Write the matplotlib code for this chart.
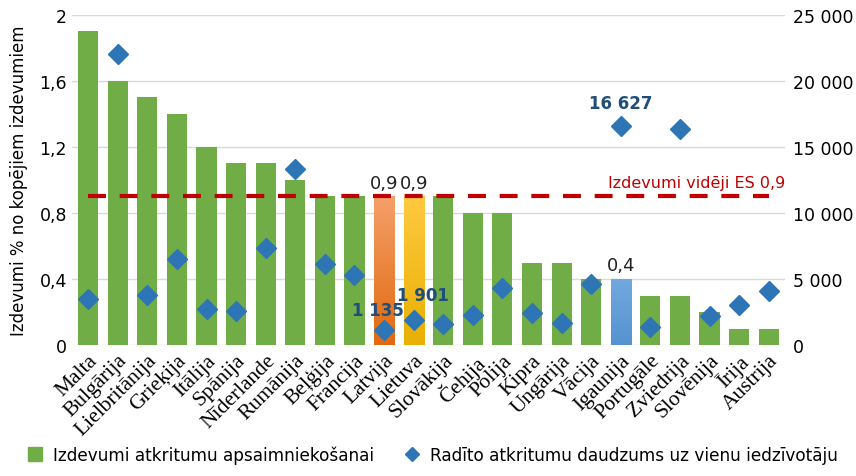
import matplotlib.pyplot as plt
import numpy as np
from matplotlib.colors import LinearSegmentedColormap
from matplotlib.ticker import FuncFormatter

countries = ["Malta", "Bulgārija", "Lielbritānija", "Grieķija", "Itālija", "Spānija",
             "Nīderlande", "Rumānija", "Beļģija", "Francija", "Latvija", "Lietuva",
             "Slovākija", "Čehija", "Polija", "Kipra", "Ungārija", "Vācija", "Igaunija",
             "Portugāle", "Zviedrija", "Slovēnija", "Īrija", "Austrija"]
spend_pct = [1.9, 1.6, 1.5, 1.4, 1.2, 1.1, 1.1, 1.0, 0.9, 0.9, 0.9, 0.9,
             0.9, 0.8, 0.8, 0.5, 0.5, 0.4, 0.4, 0.3, 0.3, 0.2, 0.1, 0.1]
waste_per_capita = [3480, 22050, 3790, 6520, 2730, 2580, 7350, 13330, 6140, 5300, 1135, 1901,
                    1590, 2270, 4320, 2420, 1670, 4620, 16627, 1360, 16360, 2200, 3030, 4090]
eu_avg = 0.9

# highlighted bars: name -> (top colour, bottom colour)
highlight = {
    "Latvija": ("#F4A06A", "#E2690F"),
    "Lietuva": ("#FFC941", "#E8B000"),
    "Igaunija": ("#71A9DE", "#5693D0"),
}
bar_labels = {"Latvija": "0,9", "Lietuva": "0,9", "Igaunija": "0,4"}
point_labels = {"Latvija": "1 135", "Lietuva": "1 901", "Igaunija": "16 627"}

green = "#70AD47"
marker_blue = "#2E75B6"
label_blue = "#1F4E79"

plt.rcParams["font.family"] = ["DejaVu Sans"]

fig = plt.figure(figsize=(8.56, 4.77), dpi=100)
ax = fig.add_axes([0.084, 0.2746, 0.833, 0.6919])
ax2 = ax.twinx()

x = np.arange(len(countries))
width = 0.68
bars = ax.bar(x, spend_pct, width=width, color=green, zorder=2)

for b, name in zip(bars, countries):
    if name in highlight:
        top, bottom = highlight[name]
        cmap = LinearSegmentedColormap.from_list(name, [bottom, top])
        bx, by = b.get_x(), b.get_y()
        bw, bh = b.get_width(), b.get_height()
        grad = np.linspace(0, 1, 100).reshape(-1, 1)
        im = ax.imshow(grad, cmap=cmap, origin="lower", aspect="auto",
                       extent=[bx, bx + bw, by, by + bh], zorder=2.5)
        im.set_clip_path(b)
        b.set_facecolor("none")
        ax.text(b.get_x() + bw / 2, bh + 0.03, bar_labels[name], ha="center",
                va="bottom", fontsize=13, color="#222222", zorder=5)

ax.set_xlim(-0.55, len(countries) - 0.45)
ax.set_ylim(0, 2)
ax.set_yticks(np.arange(0, 2.01, 0.4))
ax.yaxis.set_major_formatter(FuncFormatter(lambda v, p: f"{v:g}".replace(".", ",")))
ax.grid(axis="y", color="#D9D9D9", linewidth=1, zorder=0)
ax.set_axisbelow(True)
ax.set_ylabel("Izdevumi % no kopējiem izdevumiem", fontsize=12, labelpad=8)

ax.plot([x[0], x[-1]], [eu_avg, eu_avg], color="#C00000", linestyle=(0, (4.3, 3.3)),
        linewidth=3.0, zorder=4)
ax.text(x[-1] + 0.55, eu_avg + 0.04, "Izdevumi vidēji ES 0,9", color="#C00000",
        fontsize=11.5, ha="right", va="bottom", zorder=5)

ax.set_xticks(x)
ax.set_xticklabels(countries, rotation=45, ha="right", rotation_mode="anchor",
                   fontsize=15.5, family="Liberation Serif")

ax2.plot(x, waste_per_capita, linestyle="none", marker="D", markersize=10,
         color=marker_blue, zorder=6)
ax2.set_ylim(0, 25000)
ax2.set_yticks(np.arange(0, 25001, 5000))
ax2.yaxis.set_major_formatter(FuncFormatter(lambda v, p: f"{int(v):,}".replace(",", " ")))

offsets = {"Latvija": (-0.2, 800), "Lietuva": (0.3, 1200), "Igaunija": (0, 1000)}
for name, txt in point_labels.items():
    i = countries.index(name)
    dx, dy = offsets[name]
    ax2.text(x[i] + dx, waste_per_capita[i] + dy, txt, ha="center", va="bottom",
             fontsize=12, fontweight="bold", color=label_blue, zorder=7)

for a in (ax, ax2):
    for s in a.spines.values():
        s.set_visible(False)
    a.tick_params(length=0, labelsize=12.5)
ax.tick_params(axis="x", pad=4, labelsize=15.5)
ax2.tick_params(axis="y", pad=6)

handles = [
    plt.Line2D([], [], linestyle="none", marker="s", markersize=10, color=green),
    plt.Line2D([], [], linestyle="none", marker="D", markersize=7, color=marker_blue),
]
fig.legend(handles, ["Izdevumi atkritumu apsaimniekošanai",
                     "Radīto atkritumu daudzums uz vienu iedzīvotāju"],
           loc="lower center", bbox_to_anchor=(0.5, 0.0), ncol=2, frameon=False,
           fontsize=12.2, handletextpad=0.1, columnspacing=1.2, borderaxespad=0.3)

fig.savefig("out.png", dpi=100)
